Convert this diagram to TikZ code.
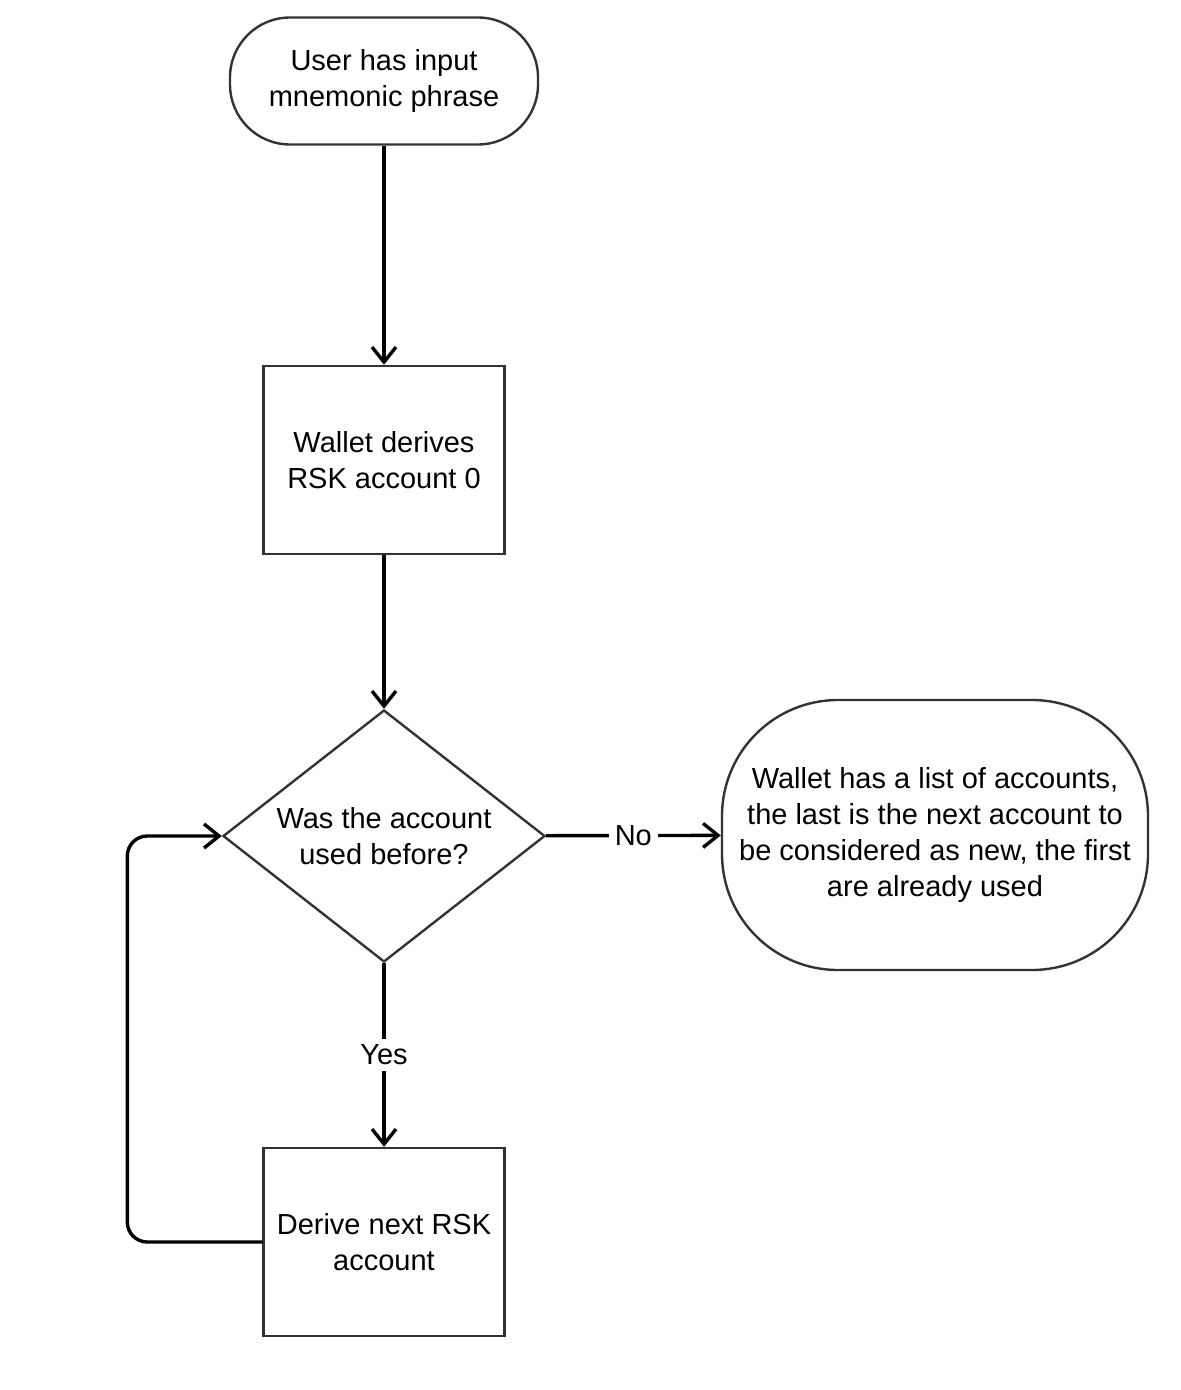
\documentclass[tikz,border=0pt]{standalone}
\usepackage{fontspec}
\setmainfont{Liberation Sans}
\usepackage{tikz}
\usetikzlibrary{shapes.geometric, arrows.meta, positioning, calc}
\definecolor{edgegray}{RGB}{51, 51, 51}
\tikzstyle{startstop} = [rectangle, draw=edgegray, fill=white, line width=1.2pt, align=center, font=\fontsize{14.5pt}{18pt}\selectfont]
\tikzstyle{process} = [rectangle, draw=edgegray, fill=white, line width=1.2pt, minimum width=120.5pt, minimum height=94pt, align=center, font=\fontsize{14.5pt}{18pt}\selectfont]
\tikzstyle{decision} = [diamond, aspect=1.28, draw=edgegray, fill=white, line width=1.2pt, minimum width=161pt, minimum height=126pt, inner sep=0pt, align=center, font=\fontsize{14.5pt}{18pt}\selectfont]
\tikzstyle{arrow} = [-{Straight Barb[length=7.5pt, width=12pt]}, line width=1.7pt]
\tikzstyle{edgelabel} = [fill=white, inner sep=3pt, font=\fontsize{14.5pt}{18pt}\selectfont]

\begin{document}
\begin{tikzpicture}[x=0.5pt, y=-0.5pt]
    \useasboundingbox (0, 0) rectangle (1180, 1390);

    % Start
    \node[startstop, rounded corners=30pt, minimum width=154pt, minimum height=63.5pt] (start) at (384, 81) {User has input\\mnemonic phrase};

    % Derive first account
    \node[process] (derive) at (384, 460) {Wallet derives\\RSK account 0};

    % Check
    \node[decision] (used) at (384, 836) {Was the account\\used before?};

    % End
    \node[startstop, rounded corners=58pt, minimum width=213pt, minimum height=135pt] (done) at (935, 835) {Wallet has a list of accounts,\\the last is the next account to\\be considered as new, the first\\are already used};

    % Derive next account
    \node[process] (next) at (384, 1242) {Derive next RSK\\account};

    % Arrows
    \draw[arrow] (start) -- (derive);
    \draw[arrow] (derive) -- (used);
    \draw[arrow] (used) -- node[edgelabel] {No} (done);
    \draw[arrow] (used) -- node[edgelabel] {Yes} (next);
    \draw[arrow, rounded corners=10pt] (next.west) -- ++(-67.5pt, 0) |- (used.west);
\end{tikzpicture}
\end{document}
